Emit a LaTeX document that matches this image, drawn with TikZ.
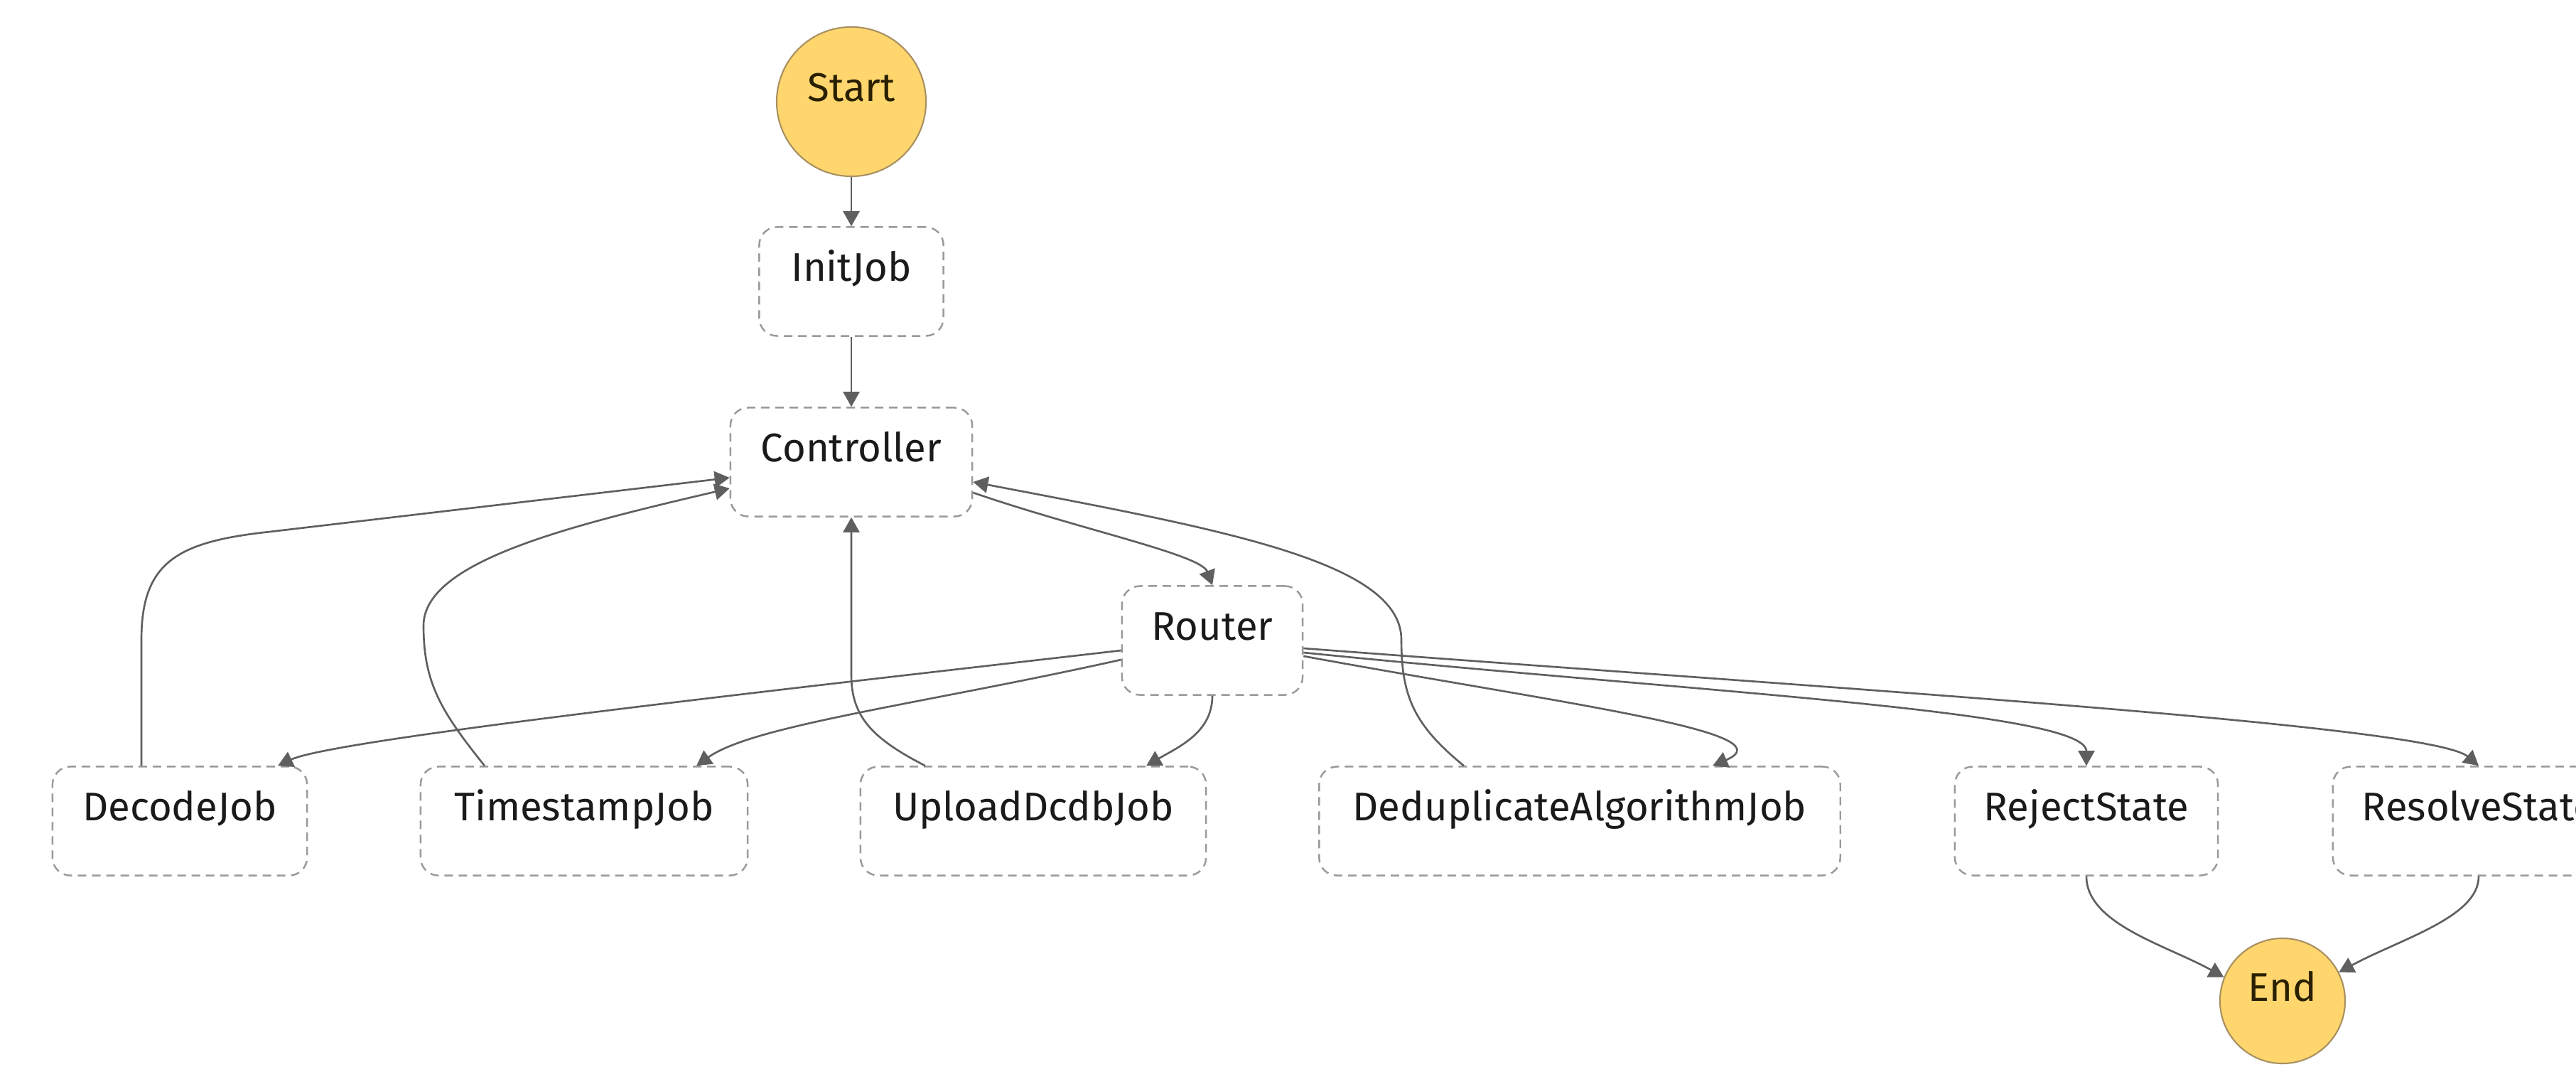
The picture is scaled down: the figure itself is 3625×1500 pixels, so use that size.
\documentclass[tikz,border=0pt]{standalone}
\usepackage{fontspec}
\setmainfont{Fira Sans}
\usetikzlibrary{arrows.meta}
\definecolor{boxline}{HTML}{9A9A9A}
\definecolor{edgecol}{HTML}{5F5F5F}
\definecolor{termfill}{HTML}{FFD66E}
\definecolor{termline}{HTML}{A89060}
\definecolor{txt}{HTML}{1A1A1A}
\definecolor{termtxt}{HTML}{2A2000}
\begin{document}
\begin{tikzpicture}[x=0.01cm,y=-0.01cm,
  statebox/.style={draw=boxline, line width=0.7pt, dash pattern=on 0.12cm off 0.08cm,
    rounded corners=0.25cm, fill=white, inner xsep=0pt, inner ysep=0pt,
    text height=0.76cm, text depth=0.77cm, font=\fontsize{16}{19}\selectfont, text=txt},
  term/.style={circle, draw=termline, line width=0.6pt, fill=termfill, inner sep=0pt,
    text height=0.36cm, text depth=0.36cm, font=\fontsize{16}{19}\selectfont, text=termtxt},
  flow/.style={draw=edgecol, line width=0.75pt, -{Triangle[length=0.21cm,width=0.23cm]}}]
\useasboundingbox (0,0) rectangle (3625,1500);
\clip (0,0) rectangle (3625,1500);
\fill[white] (0,0) rectangle (3625,1500);
% nodes
\node[term, minimum size=2.1cm] (start) at (1198,143) {Start};
\node[statebox, minimum width=2.59cm] (init) at (1198,396) {InitJob};
\node[statebox, minimum width=3.40cm] (ctrl) at (1198,650) {Controller};
\node[statebox, minimum width=2.54cm] (router) at (1706,901) {Router};
\node[statebox, minimum width=3.58cm] (decode) at (253,1155) {DecodeJob};
\node[statebox, minimum width=4.60cm] (ts) at (822,1155) {TimestampJob};
\node[statebox, minimum width=4.86cm] (upload) at (1454,1155) {UploadDcdbJob};
\node[statebox, minimum width=7.33cm] (dedup) at (2223,1155) {DeduplicateAlgorithmJob};
\node[statebox, minimum width=3.70cm] (reject) at (2936,1155) {RejectState};
\node[statebox, minimum width=4.10cm] (resolve) at (3488,1155) {ResolveState};
\node[term, minimum size=1.76cm] (end) at (3212,1408) {End};
% connectors
\draw[flow] (start.south) -- (init.north);
\draw[flow] (init.south) -- (ctrl.north);
\draw[flow] ([yshift=-0.43cm]ctrl.east) .. controls (1520,745) and (1690,780) .. (router.north);
\draw[flow] ([xshift=-0.54cm]decode.north) -- (199,900) .. controls (199,790) and (250,762) .. (380,748) -- ([yshift=-0.22cm]ctrl.west);
\draw[flow] ([xshift=-1.40cm]ts.north) .. controls (620,1000) and (596,960) .. (596,880) .. controls (596,790) and (800,740) .. ([yshift=-0.37cm]ctrl.west);
\draw[flow] ([xshift=-1.52cm]upload.north) .. controls (1230,1040) and (1198,1010) .. (1198,950) -- (ctrl.south);
\draw[flow] ([xshift=-1.63cm]dedup.north) .. controls (1990,1020) and (1972,980) .. (1972,900) .. controls (1972,790) and (1720,745) .. ([yshift=-0.28cm]ctrl.east);
\draw[flow] ([yshift=-0.14cm]router.west) .. controls (1100,970) and (470,1040) .. ([xshift=1.38cm]decode.north);
\draw[flow] ([yshift=-0.27cm]router.west) .. controls (1300,990) and (1060,1020) .. ([xshift=1.58cm]ts.north);
\draw[flow] (router.south) .. controls (1706,1030) and (1660,1050) .. ([xshift=1.59cm]upload.north);
\draw[flow] ([yshift=-0.22cm]router.east) .. controls (2200,990) and (2520,1030) .. ([xshift=1.87cm]dedup.north);
\draw[flow] ([yshift=-0.17cm]router.east) .. controls (2400,975) and (2936,1000) .. (reject.north);
\draw[flow] ([yshift=-0.11cm]router.east) .. controls (2600,970) and (3420,1020) .. (resolve.north);
\draw[flow] (reject.south) .. controls (2936,1300) and (3050,1330) .. (end.158);
\draw[flow] (resolve.south) .. controls (3488,1290) and (3380,1320) .. (end.27);
\end{tikzpicture}
\end{document}
